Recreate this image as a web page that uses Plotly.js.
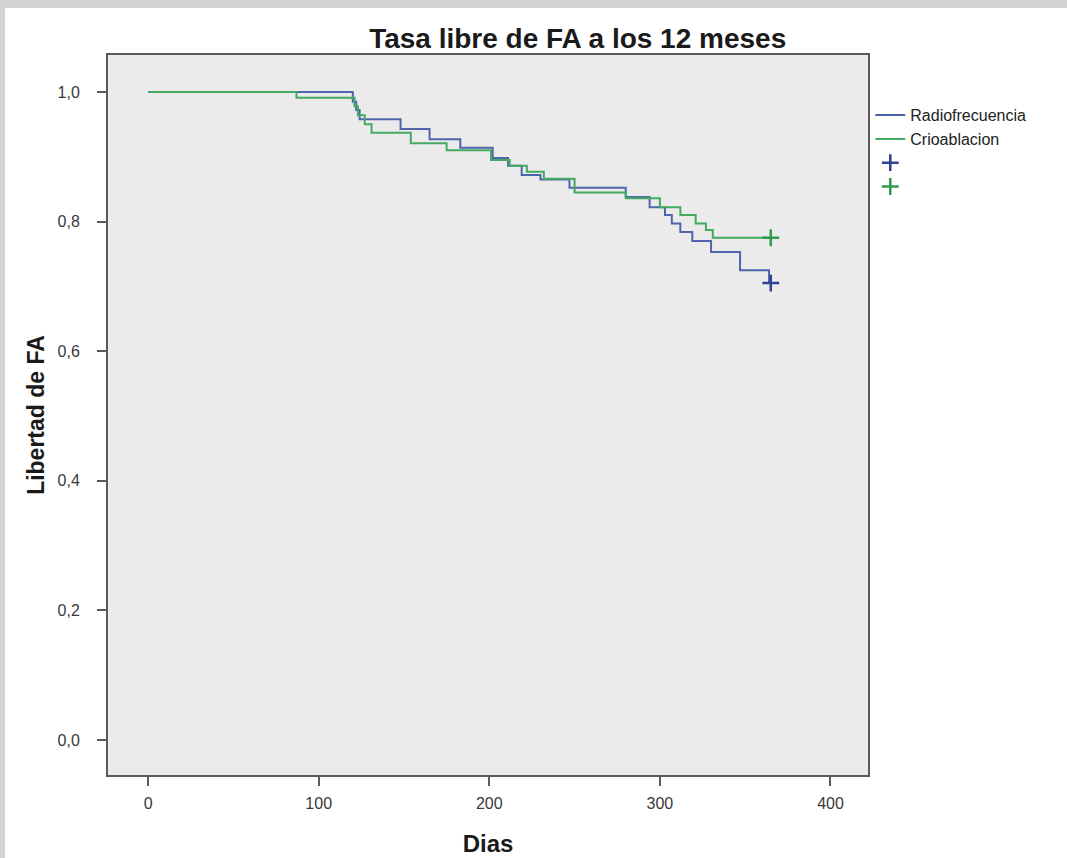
<!DOCTYPE html>
<html>
<head>
<meta charset="utf-8">
<script src="https://cdn.plot.ly/plotly-3.0.1.min.js"></script>
<style>
  html, body { margin: 0; padding: 0; background: #d3d3d5; width: 1067px; height: 858px; overflow: hidden; }
  #chart { position: absolute; left: 5px; top: 8px; width: 1062px; height: 850px; background: #ffffff; }
</style>
</head>
<body>
<div id="chart"></div>
<script>
// Kaplan-Meier step data (days, survival)
const rfDays  = [0, 120, 122, 124, 148, 165, 183, 202, 211, 219, 230, 247, 280, 294, 303, 307, 312, 319, 330, 347, 364, 365];
const rfSurv  = [1.0, 0.985, 0.972, 0.958, 0.943, 0.927, 0.914, 0.898, 0.886, 0.872, 0.865, 0.852, 0.838, 0.822, 0.810, 0.797, 0.784, 0.770, 0.753, 0.725, 0.705, 0.705];
const crioDays = [0, 87, 121, 123, 127, 131, 154, 175, 201, 212, 222, 232, 250, 280, 300, 312, 321, 327, 331, 365];
const crioSurv = [1.0, 0.991, 0.978, 0.964, 0.950, 0.937, 0.921, 0.910, 0.895, 0.886, 0.877, 0.866, 0.845, 0.836, 0.822, 0.810, 0.797, 0.787, 0.775, 0.775];
const rfCensDays = [365];
const rfCensSurv = [0.705];
const crioCensDays = [365];
const crioCensSurv = [0.775];
const seriesNames = ['Radiofrecuencia', 'Crioablacion'];

const blue = '#5064ae';
const green = '#44aa62';
const blueDark = '#2f4191';
const greenDark = '#2e9c4c';

const traces = [
  {x: rfDays, y: rfSurv, type: 'scatter', mode: 'lines', line: {shape: 'hv', color: blue, width: 2},
   name: seriesNames[0], legendgroup: 'a'},
  {x: crioDays, y: crioSurv, type: 'scatter', mode: 'lines', line: {shape: 'hv', color: green, width: 2},
   name: seriesNames[1], legendgroup: 'b'},
  {x: rfCensDays, y: rfCensSurv, type: 'scatter', mode: 'markers',
   marker: {symbol: 'cross-thin', size: 12, line: {color: blueDark, width: 2.5}, color: blueDark},
   name: ' ', legendgroup: 'c'},
  {x: crioCensDays, y: crioCensSurv, type: 'scatter', mode: 'markers',
   marker: {symbol: 'cross-thin', size: 12, line: {color: greenDark, width: 2.5}, color: greenDark},
   name: ' ', legendgroup: 'd'}
];

const axisCommon = {
  showline: true, linecolor: '#5a5a5a', linewidth: 2, mirror: true,
  ticks: 'outside', ticklen: 9, tickwidth: 2, tickcolor: '#5a5a5a',
  showgrid: false, zeroline: false,
  tickfont: {family: 'Liberation Sans, Arial, sans-serif', size: 16, color: '#3a3a3a'}
};

const layout = {
  width: 1062, height: 850,
  margin: {l: 103, r: 199, t: 47, b: 83},
  paper_bgcolor: '#ffffff',
  plot_bgcolor: '#ebebeb',
  separators: ',.',
  font: {family: 'Liberation Sans, Arial, sans-serif', color: '#222222'},
  title: {
    text: '<b>Tasa libre de FA a los 12 meses</b>',
    font: {size: 28, color: '#1a1a1a'},
    xref: 'paper', x: 0.618, xanchor: 'center',
    yref: 'container', y: 0.964, yanchor: 'middle'
  },
  xaxis: Object.assign({}, axisCommon, {
    range: [-23.5, 422], tickvals: [0, 100, 200, 300, 400],
    ticklabelstandoff: 4,
    title: {text: '<b>Dias</b>', font: {size: 24, color: '#1a1a1a'}, standoff: 24}
  }),
  yaxis: Object.assign({}, axisCommon, {
    range: [-0.054, 1.057], tickvals: [0, 0.2, 0.4, 0.6, 0.8, 1.0], tickformat: '.1f',
    ticklabelstandoff: 14,
    title: {text: '<b>Libertad de FA</b>', font: {size: 23, color: '#1a1a1a'}, standoff: 6}
  }),
  legend: {
    x: 1.003, xanchor: 'left', y: 0.94, yanchor: 'top',
    bgcolor: 'rgba(0,0,0,0)', borderwidth: 0,
    font: {size: 16, color: '#222222'},
    tracegroupgap: 0,
    itemwidth: 30
  },
  showlegend: true
};

Plotly.newPlot('chart', traces, layout, {displayModeBar: false, staticPlot: true});
</script>
</body>
</html>
